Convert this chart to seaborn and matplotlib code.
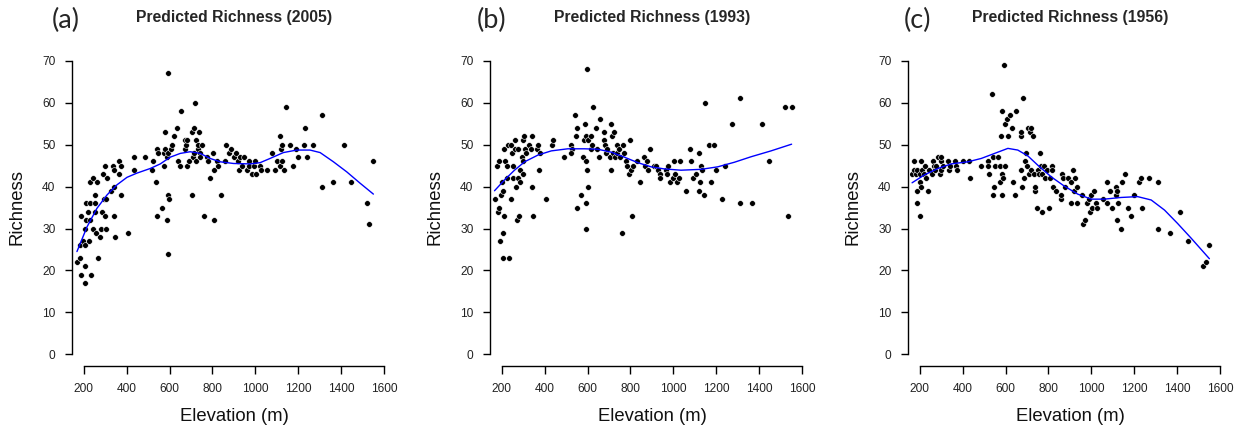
import matplotlib
matplotlib.use("Agg")
import matplotlib.pyplot as plt
import seaborn as sns

# ------------------------------------------------------------------
#   data (elevation in m, richness)
# ------------------------------------------------------------------
elev_2005 = [170, 185, 183, 189, 197, 205, 205, 208, 208, 212,
             188, 219, 212, 228, 228, 223, 234, 231, 243, 246,
             251, 254, 254, 259, 263, 266, 277, 281, 285, 290,
             296, 301, 301, 305, 308, 305, 327, 336, 340, 340,
             343, 347, 363, 366, 374, 374, 405, 433, 436, 487,
             523, 518, 535, 541, 546, 543, 565, 572, 574, 580,
             580, 588, 588, 591, 591, 596, 594, 594, 605, 613,
             622, 634, 639, 647, 653, 670, 673, 678, 681, 681,
             689, 705, 705, 710, 713, 716, 720, 723, 725, 731,
             734, 739, 743, 740, 751, 759, 774, 778, 787, 803,
             806, 806, 821, 825, 840, 861, 858, 877, 888, 898,
             909, 917, 922, 926, 936, 945, 960, 968, 972, 983,
             994, 999, 1003, 1022, 1025, 1053, 1076, 1089, 1100, 1112,
             1115, 1120, 1123, 1123, 1131, 1144, 1159, 1174, 1190, 1197,
             1224, 1231, 1239, 1270, 1310, 1310, 1363, 1412, 1445, 1518,
             1530, 1549]
rich_2005 = [22, 23, 26, 19, 27, 21, 17, 26, 30, 32,
             33, 34, 36, 36, 41, 27, 19, 32, 30, 42,
             34, 36, 38, 29, 41, 23, 28, 30, 34, 43,
             37, 45, 33, 30, 42, 37, 39, 45, 40, 33,
             44, 28, 43, 46, 45, 38, 29, 44, 47, 47,
             46, 44, 41, 49, 48, 33, 35, 48, 45, 53,
             49, 47, 32, 24, 38, 37, 67, 48, 49, 50,
             52, 54, 46, 45, 58, 51, 49, 50, 51, 45,
             46, 53, 38, 47, 48, 54, 60, 51, 46, 49,
             50, 53, 48, 47, 50, 33, 47, 46, 42, 48,
             44, 32, 46, 45, 38, 50, 46, 48, 49, 47,
             48, 46, 44, 47, 45, 47, 44, 46, 45, 43,
             45, 46, 43, 45, 44, 44, 48, 44, 46, 52,
             45, 49, 46, 50, 44, 59, 50, 45, 49, 47,
             50, 54, 47, 50, 57, 40, 41, 50, 41, 36,
             31, 46]
fit_elev_2005 = [169, 216, 262, 309, 355, 402, 448, 510, 557, 603, 650, 696,
                 743, 789, 836, 898, 975, 1022, 1068, 1130, 1192, 1254, 1301,
                 1363, 1425, 1487, 1549]
fit_rich_2005 = [24.5, 30.4, 34.8, 38.0, 40.4, 42.2, 43.2, 44.3, 45.4, 47.0, 47.9, 48.3,
                 47.9, 46.7, 45.9, 45.5, 45.4, 45.7, 46.7, 48.1, 48.7, 48.7, 48.1,
                 45.9, 43.5, 40.8, 38.2]

elev_1993 = [169, 180, 190, 185, 190, 193, 196, 200, 205, 205,
             208, 211, 213, 216, 224, 227, 228, 236, 242, 244,
             247, 252, 255, 262, 264, 267, 270, 275, 278, 281,
             286, 286, 293, 298, 301, 301, 306, 309, 314, 329,
             336, 340, 340, 348, 364, 371, 376, 379, 405, 433,
             438, 489, 525, 528, 525, 541, 549, 547, 552, 570,
             580, 583, 588, 591, 591, 592, 594, 597, 599, 602,
             603, 614, 617, 622, 627, 638, 642, 653, 656, 676,
             676, 681, 684, 689, 704, 707, 710, 715, 719, 723,
             726, 735, 738, 746, 751, 761, 766, 772, 777, 782,
             791, 800, 804, 808, 813, 828, 844, 863, 867, 875,
             880, 890, 908, 921, 927, 936, 939, 963, 970, 973,
             986, 997, 1001, 1006, 1017, 1025, 1030, 1059, 1079, 1083,
             1092, 1103, 1118, 1118, 1123, 1126, 1131, 1142, 1146, 1165,
             1177, 1191, 1200, 1226, 1242, 1273, 1312, 1312, 1366, 1413,
             1446, 1520, 1532, 1550]
rich_1993 = [37, 45, 46, 34, 35, 27, 38, 41, 23, 29,
             39, 33, 49, 46, 42, 45, 50, 23, 37, 50,
             48, 45, 42, 49, 51, 40, 32, 49, 42, 33,
             44, 41, 47, 46, 43, 51, 52, 49, 48, 50,
             49, 52, 40, 33, 49, 50, 44, 48, 37, 50,
             51, 47, 50, 49, 48, 57, 35, 52, 54, 38,
             47, 51, 55, 46, 36, 30, 52, 68, 44, 40,
             51, 49, 52, 50, 59, 54, 49, 47, 56, 53,
             51, 50, 48, 49, 47, 44, 55, 52, 48, 53,
             47, 50, 48, 49, 47, 29, 50, 48, 46, 45,
             43, 51, 44, 33, 45, 46, 41, 47, 45, 46,
             44, 49, 45, 45, 44, 43, 42, 44, 43, 45,
             41, 42, 46, 43, 41, 42, 46, 39, 49, 46,
             42, 43, 48, 39, 41, 45, 44, 38, 60, 50,
             41, 50, 44, 37, 45, 55, 36, 61, 36, 55,
             46, 59, 33, 59]
fit_elev_1993 = [167, 214, 260, 307, 369, 431, 508, 586, 648, 710, 772, 834,
                 896, 958, 1035, 1128, 1206, 1284, 1361, 1454, 1550]
fit_rich_1993 = [39.0, 41.6, 43.9, 45.9, 47.5, 48.5, 49.0, 49.0, 48.9, 48.2, 47.0, 45.7,
                 44.7, 44.2, 43.9, 44.1, 44.7, 45.8, 47.1, 48.5, 50.1]

elev_1956 = [164, 173, 175, 183, 187, 187, 190, 200, 200, 203,
             207, 207, 211, 220, 223, 228, 239, 242, 258, 262,
             267, 273, 278, 286, 293, 298, 301, 301, 309, 332,
             335, 340, 366, 371, 372, 402, 428, 433, 484, 518,
             518, 523, 537, 541, 541, 546, 549, 565, 573, 576,
             580, 582, 585, 585, 588, 591, 596, 596, 607, 611,
             619, 631, 635, 645, 650, 670, 674, 674, 677, 683,
             686, 692, 697, 701, 704, 708, 712, 717, 720, 728,
             732, 735, 739, 748, 752, 755, 760, 764, 770, 770,
             780, 786, 795, 801, 806, 814, 818, 823, 837, 856,
             857, 861, 869, 876, 889, 907, 907, 915, 919, 925,
             933, 935, 956, 961, 969, 978, 988, 994, 1000, 1003,
             1012, 1023, 1028, 1054, 1074, 1074, 1085, 1096, 1112, 1116,
             1119, 1121, 1124, 1137, 1143, 1158, 1171, 1186, 1197, 1220,
             1230, 1237, 1268, 1311, 1311, 1365, 1412, 1448, 1518, 1532,
             1549]
rich_1956 = [43, 46, 44, 43, 39, 36, 44, 41, 33, 43,
             40, 46, 44, 43, 45, 42, 39, 44, 43, 46,
             45, 44, 45, 47, 43, 46, 47, 44, 45, 46,
             44, 45, 46, 45, 44, 46, 46, 42, 45, 46,
             45, 43, 62, 47, 38, 40, 45, 47, 41, 45,
             52, 58, 43, 38, 42, 69, 55, 45, 56, 52,
             57, 54, 41, 38, 58, 52, 53, 44, 40, 61,
             42, 46, 48, 45, 54, 43, 53, 44, 54, 52,
             43, 39, 40, 35, 44, 43, 48, 45, 34, 43,
             45, 42, 44, 35, 42, 45, 44, 40, 39, 37,
             38, 43, 42, 40, 42, 41, 36, 44, 39, 42,
             40, 36, 38, 31, 32, 36, 37, 34, 38, 35,
             39, 36, 35, 37, 36, 41, 39, 35, 38, 40,
             39, 32, 36, 30, 41, 43, 35, 33, 38, 41,
             42, 35, 42, 41, 30, 29, 34, 27, 21, 22,
             26]
fit_elev_1956 = [165, 223, 285, 347, 425, 487, 549, 611, 657, 704, 750, 813,
                 874, 936, 999, 1060, 1138, 1215, 1278, 1340, 1401, 1464, 1549]
fit_rich_1956 = [40.9, 42.8, 44.3, 45.4, 45.9, 46.7, 47.9, 49.1, 48.7, 47.3, 45.1, 42.3,
                 40.1, 38.2, 37.0, 37.0, 37.4, 37.6, 36.8, 34.4, 31.2, 27.7, 22.8]

panel_letters = ["(a)", "(b)", "(c)"]
panel_titles = ["Predicted Richness (2005)", "Predicted Richness (1993)",
                "Predicted Richness (1956)"]
x_ticks = [200, 400, 600, 800, 1000, 1200, 1400, 1600]
y_ticks = [0, 10, 20, 30, 40, 50, 60, 70]

# ------------------------------------------------------------------
#   style (R base-graphics look)
# ------------------------------------------------------------------
sns.set_style("ticks")
plt.rcParams['font.family'] = ['Liberation Sans', 'DejaVu Sans']

W, H = 1246, 436
fig = plt.figure(figsize=(W / 100, H / 100), dpi=100)

panels = [
    (elev_2005, rich_2005, fit_elev_2005, fit_rich_2005),
    (elev_1993, rich_1993, fit_elev_1993, fit_rich_1993),
    (elev_1956, rich_1956, fit_elev_1956, fit_rich_1956),
]
ax_left_px = [72, 490, 908]
letter_xfrac = [-0.019, 0.006, 0.029]

for i, (ex, ry, fx, fy) in enumerate(panels):
    ax = fig.add_axes([ax_left_px[i] / W, (H - 365.7) / H, 314.5 / W, 309.2 / H])

    sns.scatterplot(x=ex, y=ry, ax=ax, color='black', s=17,
                    edgecolor='white', linewidth=0.4, zorder=3)
    sns.lineplot(x=fx, y=fy, ax=ax, color='#0000ff', linewidth=1.0,
                 sort=False, estimator=None, zorder=4)

    ax.set_xlim(146, 1610)
    ax.set_ylim(-2.7, 71)
    ax.set_xticks(x_ticks)
    ax.set_yticks(y_ticks)
    ax.grid(False)

    # detached axes like R's bty="n"
    for side in ['top', 'right']:
        ax.spines[side].set_visible(False)
    ax.spines['bottom'].set_bounds(200, 1600)
    ax.spines['left'].set_bounds(0, 70)
    for side in ['bottom', 'left']:
        ax.spines[side].set_linewidth(1.0)
        ax.spines[side].set_color('black')
    ax.tick_params(axis='both', length=5.4, width=1.0, color='black',
                   labelsize=8.6, labelcolor='#222222')
    ax.tick_params(axis='x', pad=7)
    ax.tick_params(axis='y', pad=6.5)

    ax.set_xlabel('Elevation (m)', fontsize=13.3, va='center', color='#111111')
    ax.xaxis.set_label_coords(0.515, -0.165)
    ax.set_ylabel('Richness', fontsize=13.3, va='center', color='#111111')
    ax.yaxis.set_label_coords(-0.175, 0.513)

    ax.text(0.515, 1.127, panel_titles[i], transform=ax.transAxes,
            ha='center', va='center', fontsize=11.3, fontweight='bold')
    ax.text(letter_xfrac[i], 1.116, panel_letters[i], transform=ax.transAxes,
            ha='center', va='center', fontsize=19.5, family=['Lato', 'DejaVu Sans'])

fig.savefig('out.png', dpi=100)
